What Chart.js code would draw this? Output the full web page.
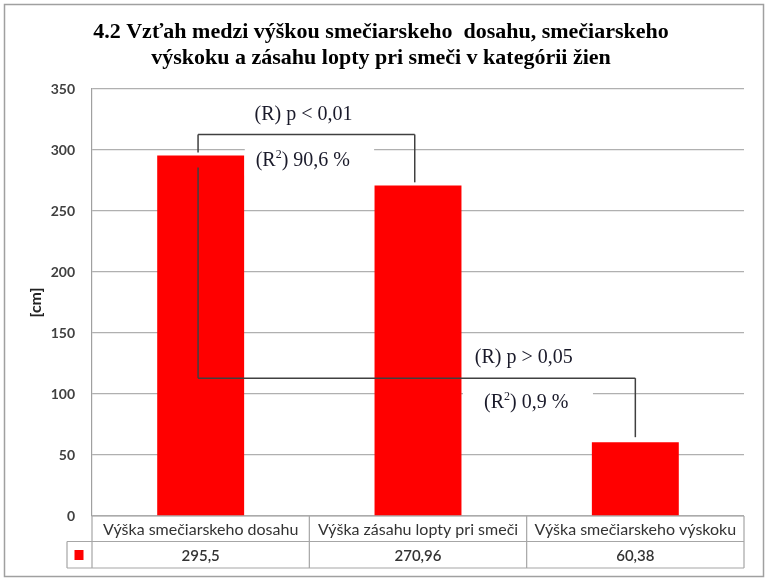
<!DOCTYPE html>
<html>
<head>
<meta charset="utf-8">
<script src="https://cdn.jsdelivr.net/npm/chart.js@4.4.1/dist/chart.umd.min.js"></script>
<style>
html,body{margin:0;padding:0;background:#fff;}
#wrap{width:768px;height:583px;position:relative;}
</style>
</head>
<body>
<div id="wrap"><canvas id="c" width="768" height="583"></canvas></div>
<script>
const titleLines = ["4.2 Vzťah medzi výškou smečiarskeho  dosahu, smečiarskeho", "výskoku a zásahu lopty pri smeči v kategórii žien"];
const categories = ["Výška smečiarskeho dosahu", "Výška zásahu lopty pri smeči", "Výška smečiarskeho výskoku"];
const values = [295.5, 270.96, 60.38];
const valueLabels = ["295,5", "270,96", "60,38"];
const yTicks = [0, 50, 100, 150, 200, 250, 300, 350];
const yAxisTitle = "[cm]";

// annotation brackets: segments in (category position, value) units
const bracketSegments = [
  [[-0.012, 312.7], [0.985, 312.7]],
  [[-0.012, 312.7], [-0.012, 298]],
  [[0.985, 312.7], [0.985, 273.5]],
  [[-0.012, 285.7], [-0.012, 113]],
  [[-0.012, 113], [2.0, 113]],
  [[2.0, 113], [2.0, 64.6]]
];
// text boxes: [catFrom, catTo, valTop, valBottom] (white background)
const noteBoxes = [
  [0.203, 0.798, 304, 279],
  [1.207, 1.805, 109, 78]
];
// notes: [pre, superscript, post, catCenter, value]
const notes = [
  ["(R) p < 0,01", "", "", 0.473, 329],
  ["(R", "2", ") 90,6 %", 0.47, 291],
  ["(R) p > 0,05", "", "", 1.487, 130],
  ["(R", "2", ") 0,9 %", 1.498, 92.5]
];

const serif = "'Liberation Serif', 'Times New Roman', serif";
const sans = "Lato, 'Open Sans', sans-serif";

const decorPlugin = {
  id: 'decor',
  beforeDraw(chart) {
    const ctx = chart.ctx;
    ctx.save();
    ctx.fillStyle = '#fff';
    ctx.fillRect(0, 0, chart.width, chart.height);
    ctx.strokeStyle = '#a0a0a0';
    ctx.lineWidth = 1.5;
    ctx.strokeRect(4.5, 4.5, 759, 572);
    // title
    ctx.fillStyle = '#000';
    ctx.font = "bold 22px " + serif;
    ctx.textAlign = 'center';
    ctx.textBaseline = 'middle';
    ctx.fillText(titleLines[0], 381, 32);
    ctx.fillText(titleLines[1], 381, 58);
    ctx.restore();
  },
  afterDatasetsDraw(chart) {
    const ctx = chart.ctx;
    const xs = chart.scales.x, ys = chart.scales.y;
    const area = chart.chartArea;
    ctx.save();
    // note boxes
    ctx.fillStyle = '#fff';
    noteBoxes.forEach(b => {
      const x1 = xs.getPixelForValue(b[0]), x2 = xs.getPixelForValue(b[1]);
      const y1 = ys.getPixelForValue(b[2]), y2 = ys.getPixelForValue(b[3]);
      ctx.fillRect(x1, y1, x2 - x1, y2 - y1);
    });
    // brackets
    ctx.strokeStyle = '#404040';
    ctx.lineWidth = 1.5;
    bracketSegments.forEach(s => {
      ctx.beginPath();
      ctx.moveTo(xs.getPixelForValue(s[0][0]), ys.getPixelForValue(s[0][1]));
      ctx.lineTo(xs.getPixelForValue(s[1][0]), ys.getPixelForValue(s[1][1]));
      ctx.stroke();
    });
    // notes
    ctx.fillStyle = '#1a1a2a';
    ctx.textBaseline = 'middle';
    ctx.textAlign = 'left';
    const mainFont = "20px " + serif, supFont = "12px " + serif;
    notes.forEach(n => {
      ctx.font = mainFont;
      const w1 = ctx.measureText(n[0]).width;
      const w3 = ctx.measureText(n[2]).width;
      ctx.font = supFont;
      const w2 = ctx.measureText(n[1]).width;
      const total = w1 + w2 + w3;
      const cx = xs.getPixelForValue(n[3]);
      const cy = ys.getPixelForValue(n[4]);
      let x = cx - total / 2;
      ctx.font = mainFont;
      ctx.fillText(n[0], x, cy);
      x += w1;
      if (n[1]) {
        ctx.font = supFont;
        ctx.fillText(n[1], x, cy - 6);
        x += w2;
        ctx.font = mainFont;
        ctx.fillText(n[2], x, cy);
      }
    });
    // data table
    const top = area.bottom, mid = area.bottom + 25.5, bot = area.bottom + 52;
    const left = area.left, right = area.right, legLeft = area.left - 25;
    ctx.strokeStyle = '#a6a6a6';
    ctx.lineWidth = 1.2;
    ctx.beginPath();
    ctx.moveTo(left, top); ctx.lineTo(right, top);
    ctx.moveTo(legLeft, mid); ctx.lineTo(right, mid);
    ctx.moveTo(legLeft, bot); ctx.lineTo(right, bot);
    ctx.moveTo(legLeft, mid); ctx.lineTo(legLeft, bot);
    ctx.moveTo(left, top); ctx.lineTo(left, bot);
    ctx.moveTo(right, top); ctx.lineTo(right, bot);
    for (let i = 1; i < categories.length; i++) {
      const xb = (xs.getPixelForValue(i - 1) + xs.getPixelForValue(i)) / 2;
      ctx.moveTo(xb, top); ctx.lineTo(xb, bot);
    }
    ctx.stroke();
    ctx.fillStyle = '#ff0000';
    ctx.fillRect(legLeft + 7.5, mid + 8.5, 9, 10);
    ctx.fillStyle = '#333';
    ctx.textAlign = 'center';
    ctx.textBaseline = 'middle';
    categories.forEach((c, i) => {
      const cx = xs.getPixelForValue(i);
      ctx.font = "16px " + sans;
      ctx.fillText(c, cx, (top + mid) / 2 + 1);
      ctx.font = "600 15px " + sans;
      ctx.fillText(valueLabels[i], cx, (mid + bot) / 2 + 1);
    });
    ctx.restore();
  }
};

new Chart(document.getElementById('c'), {
  type: 'bar',
  data: {
    labels: categories,
    datasets: [{
      data: values,
      backgroundColor: '#ff0000',
      borderWidth: 0,
      barPercentage: 0.4,
      categoryPercentage: 1.0
    }]
  },
  options: {
    responsive: false,
    animation: false,
    devicePixelRatio: 1,
    layout: { padding: { left: 0, right: 24, top: 89, bottom: 67 } },
    plugins: { legend: { display: false }, tooltip: { enabled: false }, title: { display: false } },
    scales: {
      x: { display: false },
      y: {
        min: 0, max: 350,
        afterFit(axis) { axis.width = 92; },
        afterBuildTicks(axis) { axis.ticks = yTicks.map(v => ({ value: v })); },
        ticks: { padding: 17, color: '#404040', font: { family: sans, size: 14, weight: 'bold' } },
        grid: { color: '#b0b0b0', lineWidth: 1.2, drawTicks: false },
        border: { color: '#a0a0a0', width: 1.2 },
        title: { display: true, text: yAxisTitle, color: '#222', font: { family: sans, size: 16, weight: 'bold' }, padding: { top: 26, bottom: 0 } }
      }
    }
  },
  plugins: [decorPlugin]
});
</script>
</body>
</html>
